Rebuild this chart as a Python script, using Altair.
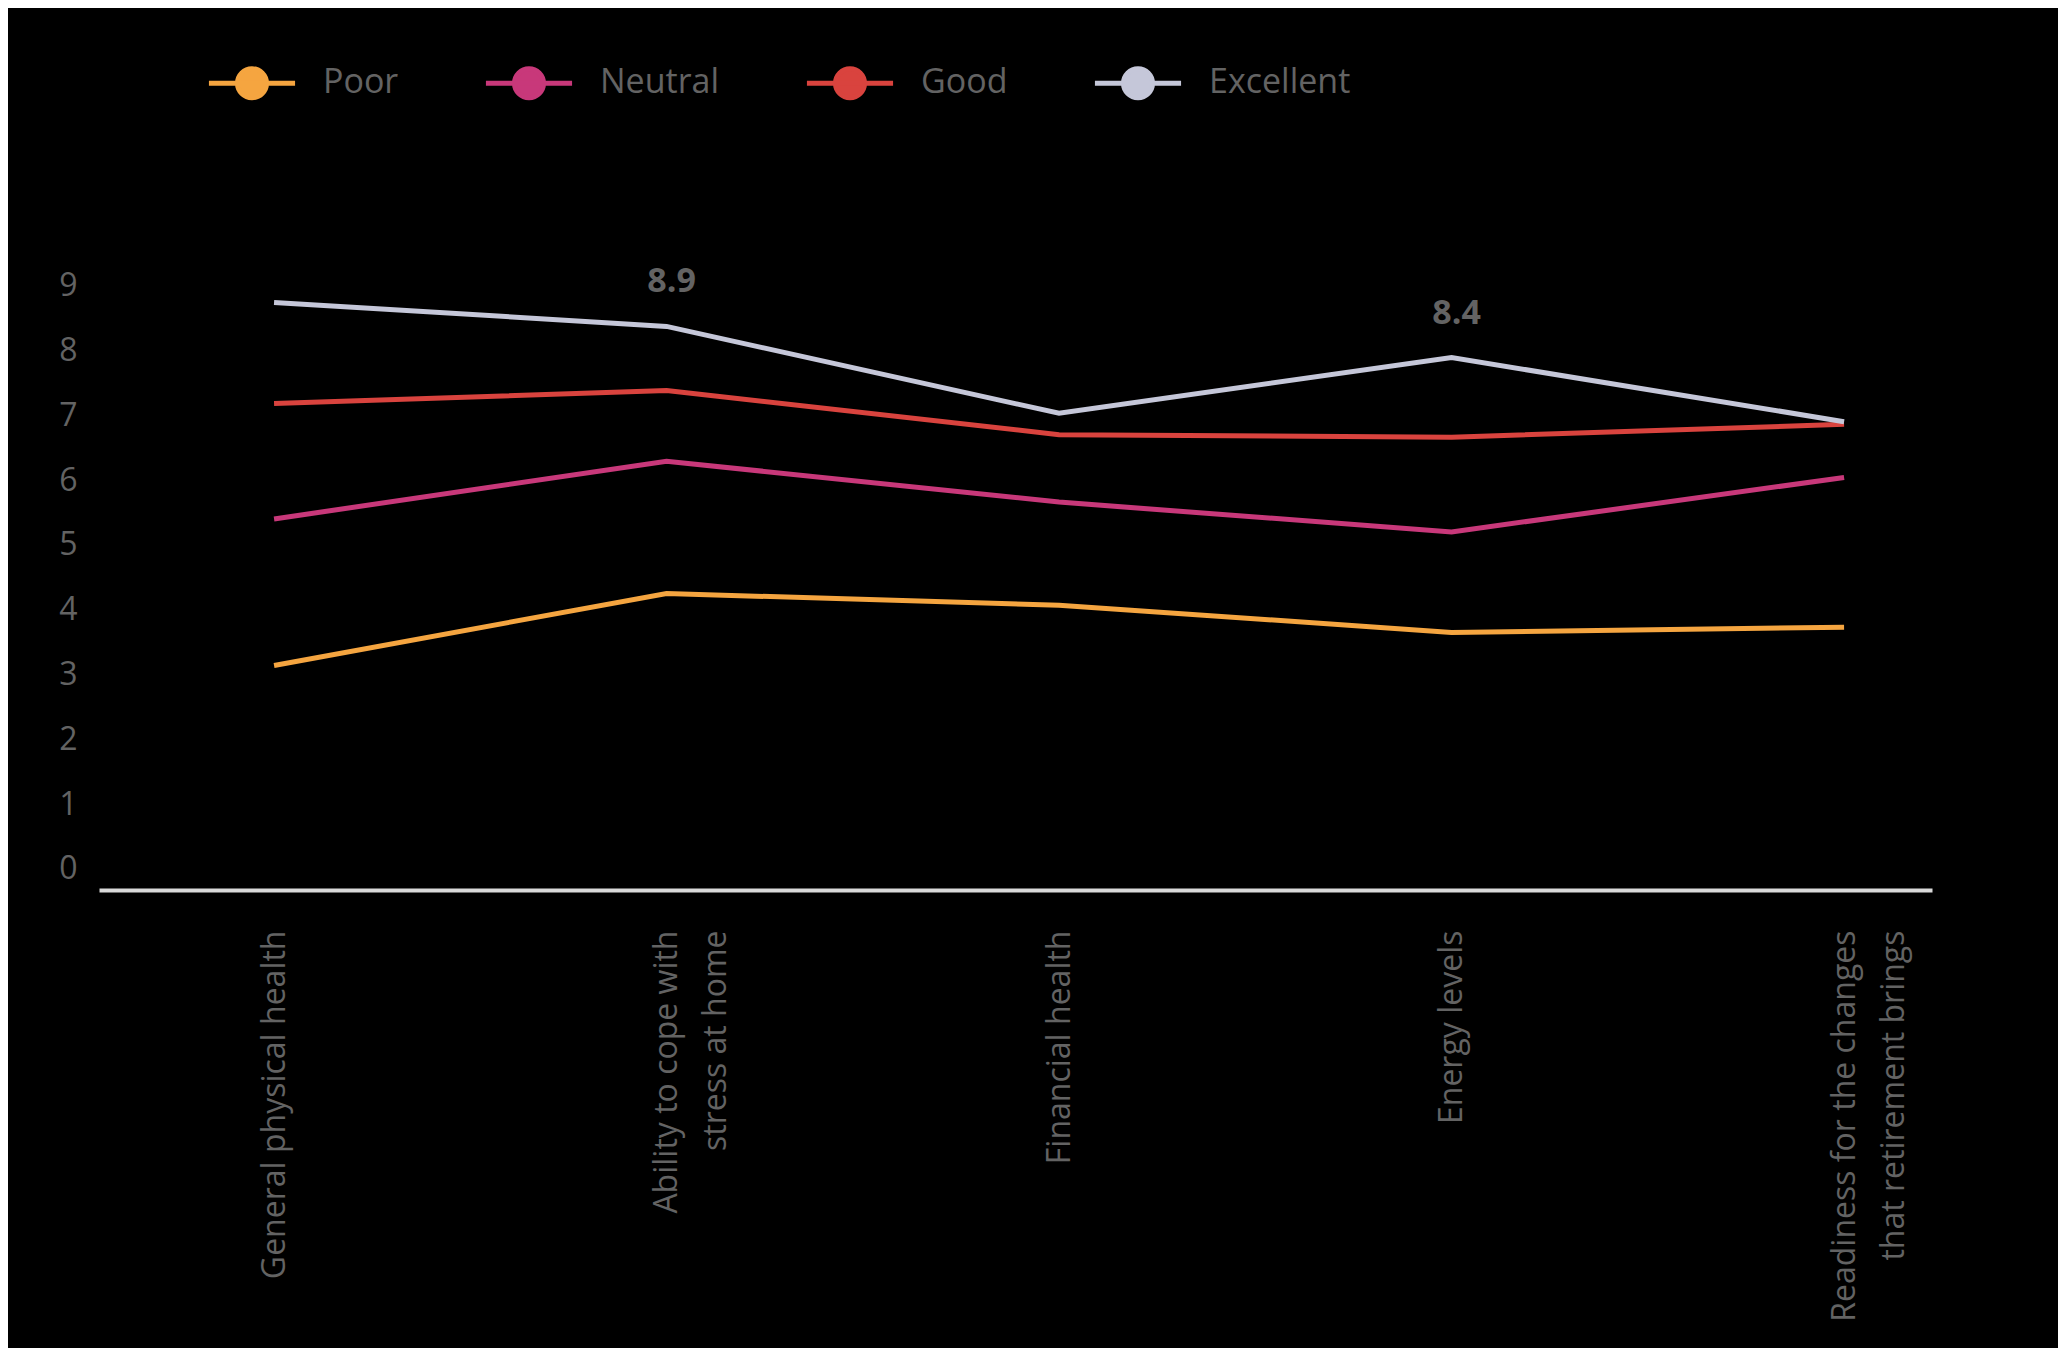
import altair as alt
import pandas as pd

# ---- data ----
categories = [
    "General physical health",
    "Ability to cope with|stress at home",
    "Financial health",
    "Energy levels",
    "Readiness for the changes|that retirement brings",
]
series = ["Poor", "Neutral", "Good", "Excellent"]
poor = [3.14, 4.25, 4.07, 3.65, 3.73]
neutral = [5.40, 6.29, 5.66, 5.20, 6.04]
good = [7.18, 7.38, 6.70, 6.66, 6.86]
excellent = [8.74, 8.37, 7.03, 7.89, 6.90]
colors = ["#F5A540", "#C8387A", "#D9433E", "#C5C7D9"]
y_ticks = list(range(10))
annot_idx = [1, 3]
annot_text = ["8.9", "8.4"]

rows = []
for s, vals in zip(series, [poor, neutral, good, excellent]):
    for i, v in enumerate(vals):
        rows.append({"series": s, "idx": i, "value": v})
df = pd.DataFrame(rows)
ann = pd.DataFrame({
    "idx": annot_idx,
    "value": [excellent[i] for i in annot_idx],
    "text": annot_text,
})

label_expr = "split([" + ",".join("'%s'" % c for c in categories) + "][datum.value], '|')"

TXT = "#636363"
FONT = "Open Sans"

x = alt.X(
    "idx:Q",
    scale=alt.Scale(domain=[-0.446, 4.224], nice=False, zero=False),
    axis=alt.Axis(
        values=list(range(len(categories))), labelExpr=label_expr, labelAngle=-90,
        ticks=False, grid=False, domainColor="#D9D9D9", domainWidth=4,
        labelPadding=40, labelFont=FONT, labelFontSize=32, labelColor=TXT,
        labelLimit=1000, labelLineHeight=49, labelFlush=False, labelOverlap=False,
        labelBound=False, title=None,
    ),
)
y = alt.Y(
    "value:Q",
    scale=alt.Scale(domain=[-0.324, 10.32], nice=False, zero=False),
    axis=alt.Axis(
        values=y_ticks, domain=False, ticks=False, grid=False, labelPadding=22,
        labelFont=FONT, labelFontSize=32, labelColor=TXT, labelOverlap=False,
        title=None,
    ),
)

sym_path = "M-2.97,0H2.97M1,0A1,1,0,1,1,-1,0A1,1,0,1,1,1,0Z"

lines = alt.Chart(df).mark_line(strokeWidth=5).encode(
    x=x,
    y=y,
    color=alt.Color(
        "series:N",
        scale=alt.Scale(domain=series, range=colors),
        sort=series,
        legend=alt.Legend(
            orient="none", legendX=136, legendY=-134, direction="horizontal",
            title=None, symbolType=sym_path, symbolSize=841, symbolStrokeWidth=5,
            symbolFillColor=alt.ExprRef(expr="scale('color', datum.value)"),
            labelFont=FONT, labelFontSize=34, labelColor=TXT, labelOffset=54,
            columnPadding=76, padding=0, columns=4,
        ),
    ),
    order=alt.Order("idx:Q"),
)

text = alt.Chart(ann).mark_text(
    font=FONT, fontSize=34, fontWeight="bold", color=TXT, dy=-44, dx=5,
    baseline="middle",
).encode(x=x, y=y, text="text:N")

chart = alt.layer(lines, text).properties(
    width=1833,
    height=690,
    autosize=alt.AutoSizeParams(type="none"),
    padding={"left": 91, "top": 192, "right": 126, "bottom": 458},
    background="#000000",
).configure_view(stroke=None)

chart.save("out.html", embed_options={"renderer": "svg", "actions": False})
